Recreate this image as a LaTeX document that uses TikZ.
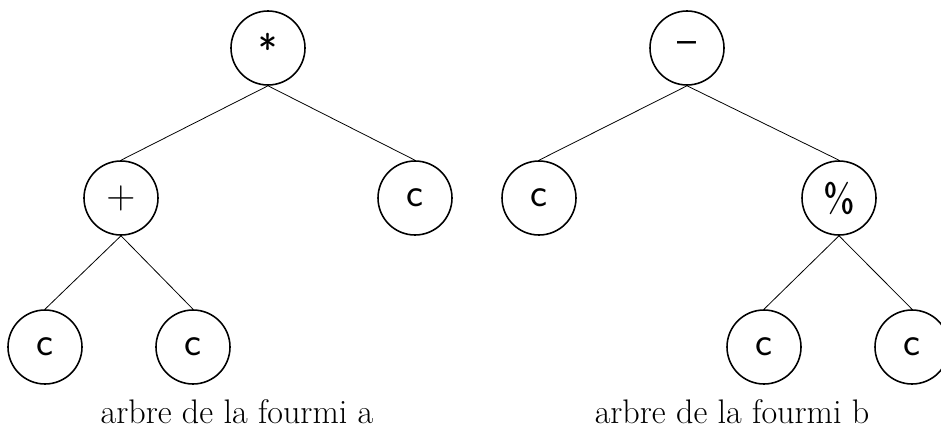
\documentclass[tikz,border=0pt]{standalone}
\usepackage{tikz}
\usetikzlibrary{positioning}
\tikzset{
    op/.style={circle, draw, line width=0.9pt, minimum size=1.48cm, inner sep=0pt, font=\sffamily\fontsize{23}{27}\selectfont},
    branch/.style={line width=0.45pt},
    legend/.style={anchor=base, font=\fontsize{19.4}{23}\selectfont}
}

\begin{document}
\begin{tikzpicture}
    \useasboundingbox (0,0) rectangle (18.82,-8.60);

    % arbre a
    \node[op] (a1) at (5.36,-0.96) {*};
    \node[op] (a2) at (2.42,-3.96) {+};
    \node[op] (a3) at (8.30,-3.96) {c};
    \node[op] (a4) at (0.90,-6.94) {c};
    \node[op] (a5) at (3.86,-6.94) {c};
    \node[legend] (la) at (4.74,-8.46) {arbre de la fourmi a};

    \draw[branch] (a1.south) -- (a2.north);
    \draw[branch] (a1.south) -- (a3.north);
    \draw[branch] (a2.south) -- (a4.north);
    \draw[branch] (a2.south) -- (a5.north);

    % arbre b
    \node[op] (b1) at (13.74,-0.96) {--};
    \node[op] (b2) at (10.78,-3.96) {c};
    \node[op] (b3) at (16.78,-3.96) {\%};
    \node[op] (b4) at (15.28,-6.94) {c};
    \node[op] (b5) at (18.24,-6.94) {c};
    \node[legend] (lb) at (14.64,-8.46) {arbre de la fourmi b};

    \draw[branch] (b1.south) -- (b2.north);
    \draw[branch] (b1.south) -- (b3.north);
    \draw[branch] (b3.south) -- (b4.north);
    \draw[branch] (b3.south) -- (b5.north);

\end{tikzpicture}
\end{document}
